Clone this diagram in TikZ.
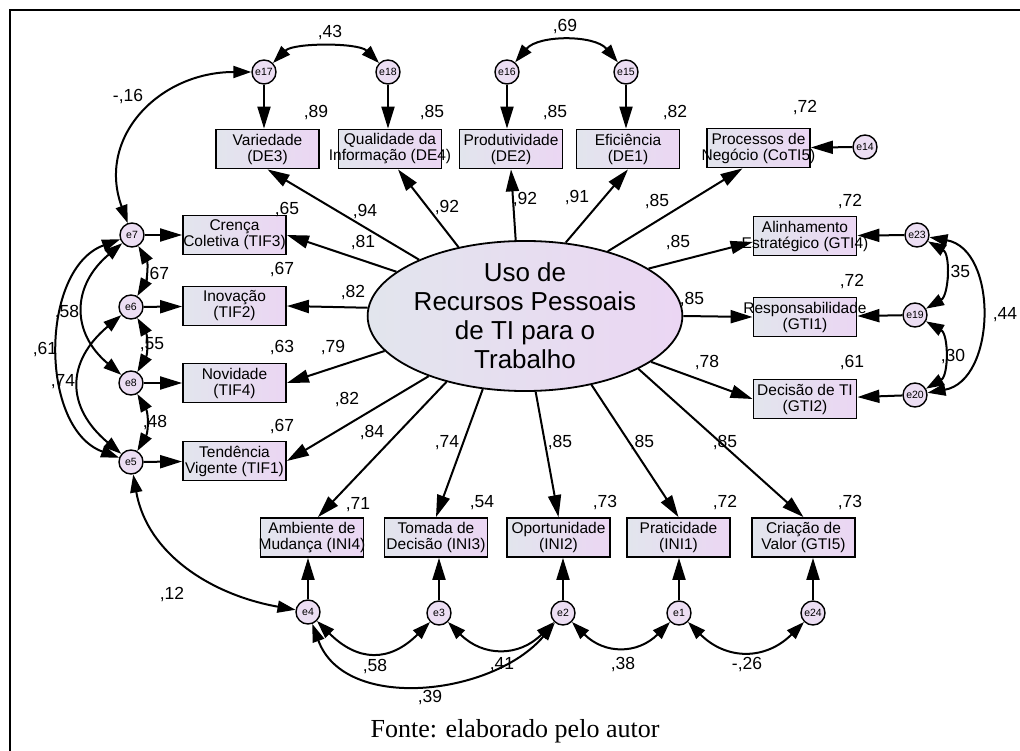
\documentclass[tikz,border=0pt]{standalone}
\usepackage{fontspec}
\setmainfont{Liberation Sans}
\newfontfamily\capfont{Liberation Serif}
\usepackage{tikz}
\usetikzlibrary{shapes,arrows.meta,calc}

\definecolor{boxleft}{RGB}{226,229,237}
\definecolor{boxright}{RGB}{235,214,243}
\definecolor{errfill}{RGB}{236,222,243}

\newcommand{\twoln}[2]{\makebox[0pt]{#1}\\\makebox[0pt]{#2}}

\tikzstyle{item} = [rectangle, draw, line width=1.8pt, left color=boxleft, right color=boxright,
    minimum width=103pt, minimum height=39pt, inner sep=0pt, align=center, font=\fontsize{15.5}{16}\selectfont]
\tikzstyle{err} = [circle, draw, line width=1.4pt, fill=errfill, minimum size=24pt, inner sep=0pt,
    font=\fontsize{10.5}{11}\selectfont]
\tikzstyle{num} = [inner sep=0pt, font=\fontsize{17.5}{18}\selectfont]
\tikzstyle{load} = [-{Triangle[length=22pt,width=13pt]}, line width=2pt]
\tikzstyle{cov} = [{Triangle[length=18pt,width=12pt]}-{Triangle[length=18pt,width=12pt]}, line width=2pt]

\begin{document}
\begin{tikzpicture}[x=1pt,y=1pt]
	\useasboundingbox (0,0) rectangle (1020,-751);
	\draw[line width=2pt] (10,-751) -- (10,-10) -- (1020,-10);

	% Place nodes
	\node [ellipse, draw, line width=1.8pt, left color=boxleft, right color=boxright, minimum width=264pt,
		minimum height=137pt, inner sep=0pt, align=center, font=\fontsize{26}{29}\selectfont]
		at (525,-316) (lat) {Uso de\\Recursos Pessoais\\de TI para o\\Trabalho};

	\node [item] at (267.5,-149) (de3) {\twoln{Variedade}{(DE3)}};
	\node [item] at (390,-149) (de4) {\twoln{Qualidade da}{Informação (DE4)}};
	\node [item] at (511,-149) (de2) {\twoln{Produtividade}{(DE2)}};
	\node [item] at (628,-149) (de1) {\twoln{Eficiência}{(DE1)}};
	\node [item] at (758.5,-148) (coti5) {\twoln{Processos de}{Negócio (CoTI5)}};

	\node [item] at (234.5,-235) (tif3) {\twoln{Crença}{Coletiva (TIF3)}};
	\node [item] at (234.5,-306) (tif2) {\twoln{Inovação}{(TIF2)}};
	\node [item] at (234.5,-383) (tif4) {\twoln{Novidade}{(TIF4)}};
	\node [item] at (234.5,-461) (tif1) {\twoln{Tendência}{Vigente (TIF1)}};

	\node [item] at (805,-236) (gti4) {\twoln{Alinhamento}{Estratégico (GTI4)}};
	\node [item] at (805,-317) (gti1) {\twoln{Responsabilidade}{(GTI1)}};
	\node [item] at (805,-399) (gti2) {\twoln{Decisão de TI}{(GTI2)}};

	\node [item] at (312,-537.5) (ini4) {\twoln{Ambiente de}{Mudança (INI4)}};
	\node [item] at (436,-537.5) (ini3) {\twoln{Tomada de}{Decisão (INI3)}};
	\node [item] at (558.5,-537.5) (ini2) {\twoln{Oportunidade}{(INI2)}};
	\node [item] at (678.5,-537.5) (ini1) {\twoln{Praticidade}{(INI1)}};
	\node [item] at (803.5,-537.5) (gti5) {\twoln{Criação de}{Valor (GTI5)}};

	% Error terms
	\node [err] at (264,-72) (e17) {e17};
	\node [err] at (388,-72) (e18) {e18};
	\node [err] at (507,-72) (e16) {e16};
	\node [err] at (626,-72) (e15) {e15};
	\node [err] at (865,-147) (e14) {e14};

	\node [err] at (132,-235) (e7) {e7};
	\node [err] at (131,-307) (e6) {e6};
	\node [err] at (131,-383) (e8) {e8};
	\node [err] at (131,-462) (e5) {e5};

	\node [err] at (917,-235) (e23) {e23};
	\node [err] at (915,-315) (e19) {e19};
	\node [err] at (915,-395) (e20) {e20};

	\node [err] at (308,-612) (e4) {e4};
	\node [err] at (439,-613) (e3) {e3};
	\node [err] at (563,-613) (e2) {e2};
	\node [err] at (679,-613) (e1) {e1};
	\node [err] at (813,-613) (e24) {e24};

	% Loadings
	\draw[load] (lat.152) -- (de3.south);
	\draw[load] (lat.134) -- ($(de4.south)+(8,0)$);
	\draw[load] (lat.97) -- (de2.south);
	\draw[load] (lat.61) -- (de1.south);
	\draw[load] (lat.38) -- ($(coti5.south)+(-16,0)$);

	\draw[load] (lat.21) -- ($(gti4.west)+(0,-6)$);
	\draw[load] (lat.0) -- (gti1.west);
	\draw[load] (lat.340) -- (gti2.west);

	\draw[load] (lat.161) -- (tif3.east);
	\draw[load] (lat.177) -- (tif2.east);
	\draw[load] (lat.194) -- (tif4.east);
	\draw[load] (lat.212) -- (tif1.east);

	\draw[load] (lat.220) -- ($(ini4.north)+(6,0)$);
	\draw[load] (lat.240) -- (ini3.north);
	\draw[load] (lat.278) -- (ini2.north);
	\draw[load] (lat.314) -- (ini1.north);
	\draw[load] (lat.335) -- (gti5.north);

	% Errors to indicators
	\draw[load] (e17) -- (e17 |- de3.north);
	\draw[load] (e18) -- (e18 |- de4.north);
	\draw[load] (e16) -- (e16 |- de2.north);
	\draw[load] (e15) -- (e15 |- de1.north);
	\draw[load] (e14) -- (coti5);

	\draw[load] (e7) -- (tif3);
	\draw[load] (e6) -- (tif2);
	\draw[load] (e8) -- (tif4);
	\draw[load] (e5) -- (tif1);

	\draw[load] (e23) -- (gti4);
	\draw[load] (e19) -- (gti1);
	\draw[load] (e20) -- (gti2);

	\draw[load] (e4) -- (e4 |- ini4.south);
	\draw[load] (e3) -- (e3 |- ini3.south);
	\draw[load] (e2) -- (e2 |- ini2.south);
	\draw[load] (e1) -- (e1 |- ini1.south);
	\draw[load] (e24) -- (e24 |- gti5.south);

	% Covariances
	\draw[cov] (e17) to[out=45,in=135,looseness=0.7] (e18);
	\draw[cov] (e16) to[out=50,in=130,looseness=0.9] (e15);
	\draw[cov] (e17) to[out=180,in=110,looseness=1.2] (e7);

	\draw[cov] (e7) to[out=-60,in=60] (e6);
	\draw[cov] (e6) to[out=-60,in=60] (e8);
	\draw[cov] (e8) to[out=-60,in=60] (e5);
	\draw[cov] (e7) to[out=220,in=140,looseness=1.28] (e8);
	\draw[cov] (e7) to[out=200,in=160] (e5);
	\draw[cov] (e6) to[out=220,in=140,looseness=1.34] (e5);
	\draw[cov] (e5) to[out=280,in=170] (e4);

	\draw[cov] (e4) to[out=-45,in=225,looseness=1.3] (e3);
	\draw[cov] (e3) to[out=-45,in=225,looseness=1.2] (e2);
	\draw[cov] (e2) to[out=-45,in=225,looseness=1.2] (e1);
	\draw[cov] (e1) to[out=-45,in=225,looseness=1.2] (e24);
	\draw[cov] (e4) to[out=290,in=230] (e2);

	\draw[cov] (e23) to[out=-30,in=30] (e19);
	\draw[cov] (e19) to[out=-30,in=30] (e20);
	\draw[cov] (e23) to[out=-10,in=10,looseness=1.15] (e20);

	% Squared multiple correlations
	\node [num] at (316,-113) (rde3) {,89};
	\node [num] at (432,-113) (rde4) {,85};
	\node [num] at (555,-113) (rde2) {,85};
	\node [num] at (675,-113) (rde1) {,82};
	\node [num] at (805,-108) (rcoti5) {,72};
	\node [num] at (287,-210) (rtif3) {,65};
	\node [num] at (282,-270) (rtif2) {,67};
	\node [num] at (282,-348) (rtif4) {,63};
	\node [num] at (282,-427) (rtif1) {,67};
	\node [num] at (850,-202) (rgti4) {,72};
	\node [num] at (852,-282) (rgti1) {,72};
	\node [num] at (852,-363) (rgti2) {,61};
	\node [num] at (358,-505) (rini4) {,71};
	\node [num] at (482,-503) (rini3) {,54};
	\node [num] at (605,-503) (rini2) {,73};
	\node [num] at (725,-503) (rini1) {,72};
	\node [num] at (850,-503) (rgti5) {,73};

	% Loading values
	\node [num] at (365,-212) (wde3) {,94};
	\node [num] at (447,-208) (wde4) {,92};
	\node [num] at (525,-200) (wde2) {,92};
	\node [num] at (577,-198) (wde1) {,91};
	\node [num] at (657,-202) (wcoti5) {,85};
	\node [num] at (678,-243) (wgti4) {,85};
	\node [num] at (692,-300) (wgti1) {,85};
	\node [num] at (707,-363) (wgti2) {,78};
	\node [num] at (363,-243) (wtif3) {,81};
	\node [num] at (353,-293) (wtif2) {,82};
	\node [num] at (333,-348) (wtif4) {,79};
	\node [num] at (347,-400) (wtif1) {,82};
	\node [num] at (372,-433) (wini4) {,84};
	\node [num] at (447,-443) (wini3) {,74};
	\node [num] at (560,-443) (wini2) {,85};
	\node [num] at (642,-443) (wini1) {,85};
	\node [num] at (725,-443) (wgti5) {,85};

	% Covariance values
	\node [num] at (330,-33) (c1718) {,43};
	\node [num] at (565,-27) (c1615) {,69};
	\node [num] at (128,-97) (c177) {-,16};
	\node [num] at (157,-275) (c76) {,67};
	\node [num] at (152,-345) (c68) {,55};
	\node [num] at (155,-423) (c85) {,48};
	\node [num] at (67,-313) (c78) {,58};
	\node [num] at (45,-350) (c75) {,61};
	\node [num] at (63,-382) (c65) {,74};
	\node [num] at (172,-595) (c54) {,12};
	\node [num] at (958,-273) (c2319) {,35};
	\node [num] at (953,-357) (c1920) {,30};
	\node [num] at (1005,-315) (c2320) {,44};
	\node [num] at (375,-667) (c43) {,58};
	\node [num] at (502,-665) (c32) {,41};
	\node [num] at (623,-665) (c21) {,38};
	\node [num] at (747,-665) (c124) {-,26};
	\node [num] at (430,-698) (c42) {,39};

	\node [font=\capfont\fontsize{26}{27}\selectfont, inner sep=0pt, anchor=base] at (515,-737) (fonte) {Fonte: elaborado pelo autor};
\end{tikzpicture}
\end{document}
